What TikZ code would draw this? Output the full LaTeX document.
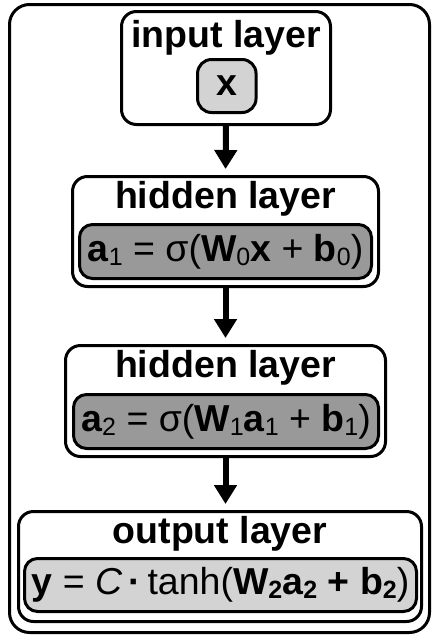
\documentclass[tikz,border=0pt]{standalone}
\usepackage{fontspec}
\setmainfont{Liberation Sans}
\usetikzlibrary{arrows.meta}
\newcommand{\mysub}[1]{\raisebox{-4pt}{\fontsize{25}{25}\selectfont #1}}
\newcommand{\mysubb}[1]{\raisebox{-4pt}{\fontsize{25}{25}\selectfont\bfseries #1}}
\begin{document}
\begin{tikzpicture}[x=1pt,y=-1pt,
  framebox/.style={draw, line width=3pt, fill=white, rounded corners=20pt, inner sep=0pt},
  lay/.style={draw, line width=3pt, fill=white, rounded corners=15pt, inner sep=0pt},
  fbox/.style={draw, line width=3pt, rounded corners=13pt, inner sep=0pt,
    text height=27pt, text depth=8pt, font=\fontsize{37.5}{40}\selectfont},
  ttl/.style={anchor=base, inner sep=0pt, font=\bfseries\fontsize{37.5}{40}\selectfont},
  conn/.style={line width=6pt, -{Triangle[width=22pt,length=19pt]}, shorten >=6pt}
]
\useasboundingbox (0,0) rectangle (437,638);
\node[framebox, minimum width=420pt, minimum height=628pt] (frame) at (219.5,318.5) {};

\node[lay, minimum width=209pt, minimum height=113pt] (input) at (226,68) {};
\node[ttl] (tin) at (226,47) {input layer};
\node[draw, line width=3pt, fill={rgb,255:red,211;green,211;blue,211}, rounded corners=14pt, inner sep=0pt,
  minimum width=58.5pt, minimum height=53pt, font=\bfseries\fontsize{37.5}{40}\selectfont] (xin) at (226.8,86) {x};

\node[lay, minimum width=306pt, minimum height=110pt] (hid1) at (225.5,231.5) {};
\node[ttl] (th1) at (225.5,208) {hidden layer};
\node[fbox, fill={rgb,255:red,153;green,153;blue,153}, minimum width=292pt, minimum height=54pt] (f1) at (225.5,251.5)
  {\textbf{a}\mysub{1} = σ(\textbf{W}\mysub{0}\textbf{x} + \textbf{b}\mysub{0})};

\node[lay, minimum width=320pt, minimum height=111pt] (hid2) at (225.5,401) {};
\node[ttl] (th2) at (225.5,377) {hidden layer};
\node[fbox, fill={rgb,255:red,153;green,153;blue,153}, minimum width=305pt, minimum height=54pt] (f2) at (226,421.5)
  {\textbf{a}\mysub{2} = σ(\textbf{W}\mysub{1}\textbf{a}\mysub{1} + \textbf{b}\mysub{1})};

\node[lay, minimum width=403pt, minimum height=110pt] (outl) at (220,566.5) {};
\node[ttl] (tout) at (220,543) {output layer};
\node[fbox, fill={rgb,255:red,211;green,211;blue,211}, minimum width=392pt, minimum height=53pt] (f3) at (220.5,585)
  {\textbf{y} = \textit{C}\,\textbf{·}\,tanh(\textbf{W}\mysubb{2}\textbf{a}\mysubb{2} \textbf{+} \textbf{b}\mysubb{2})};

\draw[conn] (input.south) -- (hid1.north);
\draw[conn] (hid1.south) -- (hid2.north);
\draw[conn] (hid2.south) -- (hid2.south |- outl.north);
\end{tikzpicture}
\end{document}
